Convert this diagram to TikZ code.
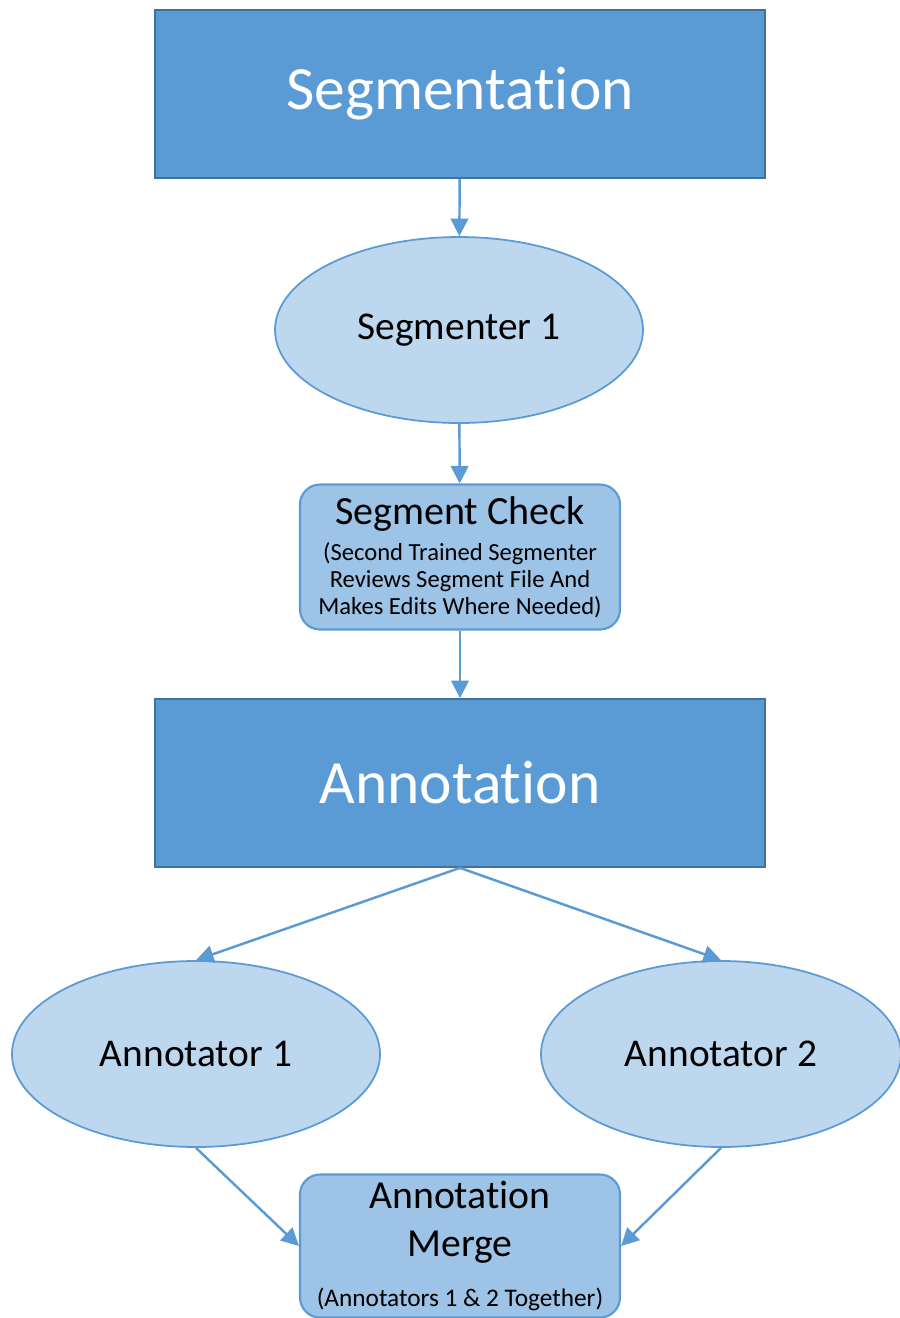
\documentclass[tikz,border=0pt]{standalone}
\usepackage{fontspec}
\setmainfont{Carlito}[RawFeature={-liga;-clig;-calt;-dlig}]
\usetikzlibrary{shapes.geometric,arrows.meta}
\definecolor{stageblue}{HTML}{5B9BD5}
\definecolor{stageedge}{HTML}{41719C}
\definecolor{workerblue}{HTML}{BDD7EE}
\definecolor{checkblue}{HTML}{9DC3E6}

\begin{document}
\begin{tikzpicture}[
    stage/.style={rectangle, fill=stageblue, draw=stageedge, line width=0.5pt, minimum width=6.1cm, minimum height=1.68cm, text=white, font=\fontsize{17.5}{21}\selectfont},
    worker/.style={ellipse, fill=workerblue, draw=stageblue, line width=0.5pt, minimum width=3.68cm, minimum height=1.86cm, font=\fontsize{11.2}{13.4}\selectfont},
    checkbox/.style={rectangle, rounded corners=0.2cm, fill=checkblue, draw=stageblue, line width=0.6pt, minimum width=3.2cm, minimum height=1.45cm, align=center, inner sep=1pt},
    flow/.style={draw=stageblue, line width=0.7pt, -{Triangle[length=5pt,width=5pt]}}
]
        \useasboundingbox (0,0) rectangle (9,-13.18);
        \node[stage] (seg) at (4.60,-0.94) {Segmentation};
        \node[worker] (segr) at (4.59,-3.30) {Segmenter 1};
        \node[checkbox, font=\fontsize{7}{7.7}\selectfont] (check) at (4.60,-5.57)
            {{\fontsize{11.4}{13.6}\selectfont Segment Check}\\[2.5pt] (Second Trained Segmenter\\ Reviews Segment File And\\ Makes Edits Where Needed)};
        \node[stage] (annot) at (4.60,-7.83) {Annotation};
        \node[worker] (ann1) at (1.96,-10.54) {Annotator 1};
        \node[worker, minimum width=3.6cm] (ann2) at (7.21,-10.54) {Annotator 2};
        \node[checkbox, minimum height=1.43cm, font=\fontsize{11.3}{13.6}\selectfont] (merge) at (4.60,-12.46)
            {Annotation\\ Merge\\[0.5pt] {\fontsize{7.2}{8}\selectfont (Annotators 1 \& 2 Together)}};
        \draw[flow] (seg) -- (segr);
        \draw[flow] (segr) -- (check);
        \draw[flow] (check) -- (annot);
        \draw[flow] (annot.south) -- (ann1.north);
        \draw[flow] (annot.south) -- (ann2.north);
        \draw[flow] (ann1.south) -- (merge.west);
        \draw[flow] (ann2.south) -- (merge.east);
    \end{tikzpicture}
\end{document}
